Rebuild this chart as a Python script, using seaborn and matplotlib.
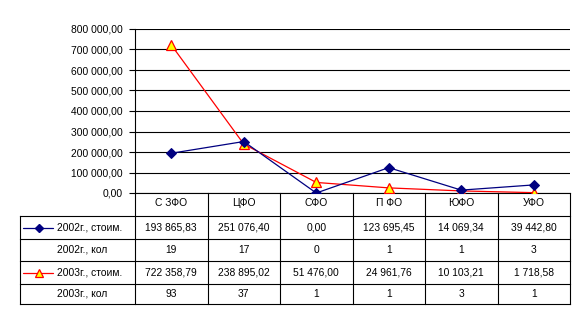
import matplotlib
matplotlib.use("Agg")
import matplotlib.pyplot as plt
import seaborn as sns
import pandas as pd
from matplotlib.ticker import FuncFormatter

categories = ["С ЗФО", "ЦФО", "СФО", "П ФО", "ЮФО", "УФО"]
cost_2002 = [193865.83, 251076.40, 0.00, 123695.45, 14069.34, 39442.80]
count_2002 = [19, 17, 0, 1, 1, 3]
cost_2003 = [722358.79, 238895.02, 51476.00, 24961.76, 10103.21, 1718.58]
count_2003 = [93, 37, 1, 1, 3, 1]
row_labels = ["2002г., стоим.", "2002г., кол", "2003г., стоим.", "2003г., кол"]
yticks = [0, 100000, 200000, 300000, 400000, 500000, 600000, 700000, 800000]

sns.set_style("white")
plt.rcParams["font.family"] = ["Liberation Sans", "DejaVu Sans"]
FS = 7.4

def fmt_money(v):
    s = f"{v:,.2f}"
    return s.replace(",", " ").replace(".", ",")

W, H = 588, 323
fig = plt.figure(figsize=(W / 100, H / 100), dpi=100)
fig.patch.set_facecolor("white")

# plot area in pixels
L, R, T, B = 135, 570, 29, 193
ax = fig.add_axes([L / W, 1 - B / H, (R - L) / W, (B - T) / H])

df = pd.DataFrame({
    "pos": list(range(len(categories))) * 2,
    "value": cost_2002 + cost_2003,
    "series": [row_labels[0]] * len(categories) + [row_labels[2]] * len(categories),
})

NAVY = "#000080"
RED = "#FF0000"
YEL = "#FFFF00"

sns.lineplot(data=df[df.series == row_labels[0]], x="pos", y="value", ax=ax,
             color=NAVY, lw=0.9, marker="D", markersize=4.8, markerfacecolor=NAVY,
             markeredgecolor=NAVY, sort=False, legend=False, zorder=4)
sns.lineplot(data=df[df.series == row_labels[2]], x="pos", y="value", ax=ax,
             color=RED, lw=0.9, marker="^", markersize=6.5, markerfacecolor=YEL,
             markeredgecolor=RED, markeredgewidth=0.9, sort=False, legend=False, zorder=3)

ax.set_xlim(-0.5, len(categories) - 0.5)
ax.set_ylim(0, 800000)
ax.set_yticks(yticks)
ax.yaxis.set_major_formatter(FuncFormatter(lambda v, p: fmt_money(v)))
ax.set_xticks([])
ax.set_xlabel("")
ax.set_ylabel("")
ax.grid(axis="y", color="black", lw=0.8)
ax.set_axisbelow(True)
for s in ["top", "right"]:
    ax.spines[s].set_visible(False)
for s in ["left", "bottom"]:
    ax.spines[s].set_color("black")
    ax.spines[s].set_linewidth(0.8)
ax.tick_params(axis="y", length=4, width=0.8, color="black", labelsize=FS, pad=5,
               labelcolor="black", left=True)
ax.patch.set_alpha(0)

# overlay axes in pixel coordinates for the data table
ov = fig.add_axes([0, 0, 1, 1])
ov.set_xlim(0, W)
ov.set_ylim(H, 0)
ov.axis("off")
ov.patch.set_alpha(0)

colw = (R - L) / len(categories)
row_y = [216, 239, 261, 284, 304]
LX = 20
lk = dict(color="black", lw=0.8, solid_capstyle="projecting")

# vertical column separators
for i in range(len(categories) + 1):
    x = L + i * colw
    ov.plot([x, x], [B, row_y[-1]], **lk)
# left box of row labels
ov.plot([LX, LX], [row_y[0], row_y[-1]], **lk)
for y in row_y:
    ov.plot([LX, R], [y, y], **lk)

# category header
for i, c in enumerate(categories):
    ov.text(L + (i + 0.5) * colw, 203, c, ha="center", va="center", fontsize=FS, color="black")

rows = [
    [fmt_money(v) for v in cost_2002],
    [str(v) for v in count_2002],
    [fmt_money(v) for v in cost_2003],
    [str(v) for v in count_2003],
]
for r in range(4):
    yc = (row_y[r] + row_y[r + 1]) / 2
    ov.text(57, yc, row_labels[r], ha="left", va="center", fontsize=FS, color="black")
    for i, t in enumerate(rows[r]):
        ov.text(L + (i + 0.5) * colw, yc, t, ha="center", va="center", fontsize=FS, color="black")

# legend keys
y1 = (row_y[0] + row_y[1]) / 2
ov.plot([23, 53], [y1, y1], color=NAVY, lw=0.9)
ov.plot([38.5], [y1], marker="D", markersize=3.8, color=NAVY)
y3 = (row_y[2] + row_y[3]) / 2
ov.plot([23, 53], [y3, y3], color=RED, lw=0.9)
ov.plot([38.5], [y3], marker="^", markersize=5.5, markerfacecolor=YEL, markeredgecolor=RED,
        markeredgewidth=0.9)

fig.savefig("out.png", dpi=100, facecolor="white")
